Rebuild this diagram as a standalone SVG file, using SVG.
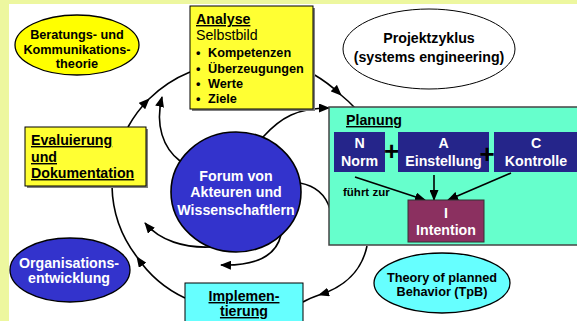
<svg xmlns="http://www.w3.org/2000/svg" width="577" height="321" viewBox="0 0 577 321">
<defs>
<marker id="ah" markerUnits="userSpaceOnUse" markerWidth="11" markerHeight="9" refX="10" refY="4.5" orient="auto">
<path d="M0,0 L11,4.5 L0,9 z" fill="#000"/>
</marker>
<style>
text{font-family:"Liberation Sans",Arial,sans-serif;font-weight:bold;text-anchor:middle}
.s{font-size:12.7px}
.m{font-size:14.2px}
.w{fill:#fff}
.l{text-anchor:start}
.u{text-decoration:underline}
.c{fill:none;stroke:#000;stroke-width:1.6}
.a{marker-end:url(#ah)}
.sh{fill:#808080}
</style>
</defs>
<rect x="0" y="0" width="577" height="321" fill="#EDF79F"/>
<rect x="9" y="4" width="568" height="317" fill="#fff"/>

<g id="connectors">
<path class="c a" d="M128,127 A127,127 0 0 1 149,99"/>
<path class="c" d="M149,99 A127,127 0 0 1 190,72"/>
<path class="c a" d="M313,74 A142,142 0 0 1 341,95"/>
<path class="c" d="M341,95 A142,142 0 0 1 355,108"/>
<path class="c a" d="M367,246 C362,270 345,287 319,295"/>
<path class="c" d="M319,295 C313,297 308,299 303,302"/>
<path class="c a" d="M185,298 A118,118 0 0 1 137,257"/>
<path class="c" d="M137,257 A120,120 0 0 1 112,186"/>
<path class="c a" d="M180,161 C163,148 155,125 162,97"/>
<path class="c a" d="M263,137 C281,117 298,108 329,108"/>
<path class="c" d="M300,183 C316,186 326,196 330,209"/>
<path class="c a" d="M281,235 C276,256 255,266 221,265"/>
<path class="c a" d="M210,247 C185,248 160,241 145,223"/>
</g>

<g id="beratung">
<ellipse cx="77" cy="45" rx="62" ry="30" fill="#FFFF00" stroke="#000" stroke-width="1.3"/>
<text class="s" x="77" y="39">Beratungs- und</text>
<text class="s" x="77" y="54">Kommunikations-</text>
<text class="s" x="77" y="68">theorie</text>
</g>

<g id="analyse">
<rect class="sh" x="192" y="8" width="123" height="103"/>
<rect x="190" y="6" width="123" height="103" fill="#FFFF33" stroke="#000" stroke-width="1"/>
<text class="m l u" x="196" y="24">Analyse</text>
<text class="m l" x="196" y="40" style="font-weight:normal">Selbstbild</text>
<text class="s l" x="196" y="57">•</text>
<text class="s l" x="208" y="57">Kompetenzen</text>
<text class="s l" x="196" y="73">•</text>
<text class="s l" x="208" y="73">Überzeugungen</text>
<text class="s l" x="196" y="88">•</text>
<text class="s l" x="208" y="88">Werte</text>
<text class="s l" x="196" y="103">•</text>
<text class="s l" x="208" y="103">Ziele</text>
</g>

<g id="projektzyklus">
<ellipse cx="429" cy="49" rx="86" ry="40" fill="#fff" stroke="#000" stroke-width="1"/>
<text class="m" x="429" y="43">Projektzyklus</text>
<text class="m" x="429" y="62">(systems engineering)</text>
</g>

<g id="evaluierung">
<rect class="sh" x="27" y="129" width="121" height="59"/>
<rect x="25" y="127" width="121" height="59" fill="#FFFF33" stroke="#000" stroke-width="1"/>
<text class="m l u" x="31" y="145">Evaluierung</text>
<text class="m l u" x="31" y="162">und</text>
<text class="m l u" x="31" y="178">Dokumentation</text>
</g>

<g id="forum">
<ellipse cx="236" cy="192" rx="65" ry="60" fill="#3333CC" stroke="#000" stroke-width="1.6"/>
<text class="m w" x="236" y="181">Forum von</text>
<text class="m w" x="236" y="197">Akteuren und</text>
<text class="m w" x="236" y="215">Wissenschaftlern</text>
</g>

<g id="planung">
<rect x="329" y="107" width="252" height="138" fill="#66FFCC" stroke="#444" stroke-width="1.5"/>
<text class="m l u" x="346" y="125">Planung</text>
</g>

<g id="norm">
<rect x="334" y="132" width="51" height="40" fill="#25258A"/>
<text class="m w" x="359.5" y="148">N</text>
<text class="m w" x="359.5" y="166">Norm</text>
</g>

<g id="einstellung">
<rect x="398" y="132" width="91" height="40" fill="#25258A"/>
<text class="m w" x="443.5" y="148">A</text>
<text class="m w" x="443.5" y="166">Einstellung</text>
</g>

<g id="kontrolle">
<rect x="494" y="132" width="86" height="40" fill="#25258A"/>
<text class="m w" x="536" y="148">C</text>
<text class="m w" x="536" y="166">Kontrolle</text>
</g>

<g id="plus">
<text x="391.5" y="160" style="font-size:26px">+</text>
<text x="487" y="163" style="font-size:26px">+</text>
</g>

<g id="planung-arrows">
<path class="c a" d="M355,177 L425,200"/>
<path class="c a" d="M434,175 L434,200"/>
<path class="c a" d="M511,173 L448,200"/>
<text class="l" x="343" y="196" style="font-size:11.5px">führt zur</text>
</g>

<g id="intention">
<rect x="408" y="200" width="76" height="42" fill="#8B3060" stroke="#333" stroke-width="1"/>
<text class="m w" x="446" y="218">I</text>
<text class="m w" x="446" y="235">Intention</text>
</g>

<g id="organisation">
<ellipse cx="70" cy="270" rx="60" ry="32" fill="#3333CC" stroke="#000" stroke-width="1.3"/>
<text class="m w" x="69" y="268">Organisations-</text>
<text class="m w" x="69" y="283">entwicklung</text>
</g>

<g id="implementierung">
<rect x="185" y="283" width="118" height="45" fill="#66FFFF" stroke="#000" stroke-width="1"/>
<text class="m u" x="244" y="301">Implemen-</text>
<text class="m u" x="244" y="316">tierung</text>
</g>

<g id="tpb">
<ellipse cx="442" cy="283" rx="68" ry="30" fill="#66FFFF" stroke="#000" stroke-width="1.3"/>
<text class="s" x="442" y="282">Theory of planned</text>
<text class="s" x="442" y="296">Behavior (TpB)</text>
</g>
</svg>
